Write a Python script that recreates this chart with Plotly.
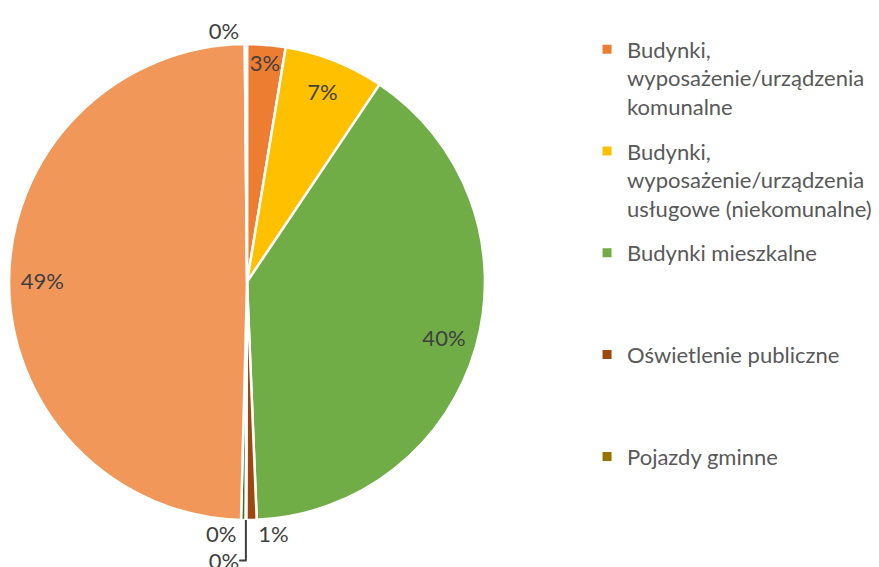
import plotly.graph_objects as go

# slices in clockwise order starting at 12 o'clock
categories = [
    "Budynki, wyposażenie/urządzenia komunalne",
    "Budynki, wyposażenie/urządzenia usługowe (niekomunalne)",
    "Budynki mieszkalne",
    "Oświetlenie publiczne",
    "Pojazdy gminne",
    "Przemysł",
    "Transport prywatny i komercyjny",
    "Gospodarka odpadami",
]
values = [2.6, 6.8, 39.9, 0.7, 0.05, 0.3, 49.4, 0.15]
colors = ["#ED7D31", "#FFC000", "#70AD47", "#9E480E", "#997300",
          "#43682B", "#F1975A", "#FFCD33"]
text_positions = ["inside", "inside", "inside", "outside", "outside",
                  "outside", "inside", "outside"]

# legend (only first five categories shown, wrapped as in the original)
legend_labels = [
    "Budynki,<br>wyposażenie/urządzenia<br>komunalne",
    "Budynki,<br>wyposażenie/urządzenia<br>usługowe (niekomunalne)",
    "Budynki mieszkalne<br> <br> ",
    "Oświetlenie publiczne<br> <br> ",
    "Pojazdy gminne<br> <br> ",
]
legend_colors = colors[:5]

FONT = "Lato"
DOMAIN = dict(x=[0.0012, 0.5476], y=[0.0841, 0.9356])

fig = go.Figure()
# coloured slices
fig.add_trace(go.Pie(
    labels=categories,
    values=values,
    sort=False,
    direction="clockwise",
    rotation=0,
    marker=dict(colors=colors, line=dict(color="white", width=2.5)),
    textinfo="none",
    showlegend=False,
    domain=DOMAIN,
    hoverinfo="label+percent",
))
# transparent ring carrying the data labels near the rim
fig.add_trace(go.Pie(
    labels=categories,
    values=values,
    sort=False,
    direction="clockwise",
    rotation=0,
    hole=0.72,
    marker=dict(colors=["rgba(0,0,0,0)"] * len(values),
                line=dict(color="rgba(0,0,0,0)", width=0)),
    textinfo="percent",
    texttemplate="%{percent:.0%}",
    textposition=text_positions,
    insidetextorientation="horizontal",
    textfont=dict(family=FONT, size=22, color="#404040"),
    showlegend=False,
    domain=DOMAIN,
    hoverinfo="skip",
))

for lab, col in zip(legend_labels, legend_colors):
    fig.add_trace(go.Scatter(
        x=[None], y=[None], mode="markers", name=lab,
        marker=dict(symbol="square", size=9, color=col),
        legendgroup=lab, showlegend=True,
    ))

# page body has an 8px margin, so the figure is sized to fill the rest
fig.update_layout(
    width=871, height=559,
    margin=dict(l=0, r=0, t=0, b=0, autoexpand=False),
    paper_bgcolor="white", plot_bgcolor="white",
    xaxis=dict(visible=False), yaxis=dict(visible=False),
    font=dict(family=FONT, color="#595959"),
    legend=dict(
        x=0.6648, y=0.9635, xanchor="left", yanchor="top",
        font=dict(family=FONT, size=22, color="#595959"),
        valign="top", traceorder="grouped", tracegroupgap=13,
        itemwidth=30, bgcolor="rgba(0,0,0,0)",
    ),
    uniformtext=dict(minsize=22, mode="show"),
)

fig.write_html("out.html")
